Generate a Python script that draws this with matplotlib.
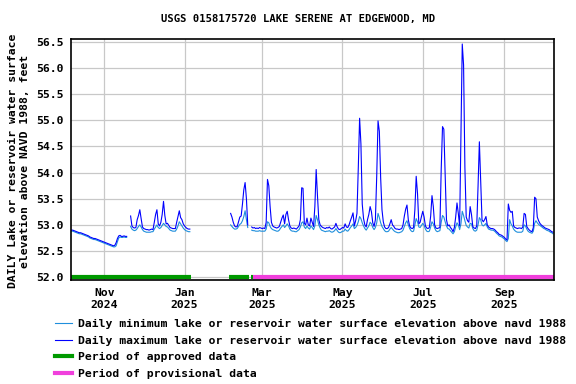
import pandas as pd
import matplotlib
matplotlib.use('Agg')
import matplotlib.pyplot as plt
import matplotlib.dates as mdates
from matplotlib.ticker import MultipleLocator, FormatStrFormatter

plt.rcParams['font.family'] = 'DejaVu Sans Mono'
plt.rcParams['font.weight'] = 'bold'
plt.rcParams['font.size'] = 8.2

title = 'USGS 0158175720 LAKE SERENE AT EDGEWOOD, MD'
ylabel = 'DAILY Lake or reservoir water surface\nelevation above NAVD 1988, feet'
min_label = 'Daily minimum lake or reservoir water surface elevation above navd 1988'
max_label = 'Daily maximum lake or reservoir water surface elevation above navd 1988'
approved_label = 'Period of approved data'
provisional_label = 'Period of provisional data'

# daily values, one list per continuous record segment
seg_starts = ['2024-10-07', '2024-11-21', '2025-02-05', '2025-02-21']

max_seg1 = [52.90, 52.90, 52.89, 52.88, 52.87, 52.86, 52.85, 52.85, 52.84, 52.83, 52.82,
            52.81, 52.80, 52.79, 52.77, 52.76, 52.75, 52.74, 52.74, 52.73, 52.72,
            52.71, 52.70, 52.69, 52.68, 52.67, 52.66, 52.65, 52.64, 52.63, 52.62,
            52.61, 52.60, 52.61, 52.66, 52.74, 52.79, 52.80, 52.78, 52.78, 52.79,
            52.78, 52.78]
min_seg1 = [52.88, 52.88, 52.87, 52.86, 52.85, 52.84, 52.83, 52.83, 52.82, 52.81, 52.80,
            52.79, 52.78, 52.77, 52.75, 52.74, 52.73, 52.72, 52.72, 52.71, 52.70,
            52.69, 52.68, 52.67, 52.66, 52.65, 52.64, 52.63, 52.62, 52.61, 52.60,
            52.59, 52.58, 52.58, 52.60, 52.68, 52.75, 52.77, 52.76, 52.76, 52.77,
            52.76, 52.76]

max_seg2 = [53.17, 52.98, 52.95, 52.94, 52.95, 53.10, 53.18, 53.29, 53.12, 52.96,
            52.93, 52.92, 52.91, 52.91, 52.90, 52.91, 52.92, 52.91, 53.05, 53.20,
            53.29, 53.02, 52.98, 53.05, 53.20, 53.45, 53.18, 53.02, 53.03, 52.99,
            52.95, 52.94, 52.93, 52.93, 52.93, 53.05, 53.16, 53.27, 53.14, 53.10,
            53.02, 52.98, 52.95, 52.93, 52.92, 52.92]
min_seg2 = [52.97, 52.92, 52.90, 52.89, 52.90, 52.93, 52.97, 53.00, 52.96, 52.91,
            52.88, 52.87, 52.86, 52.86, 52.86, 52.86, 52.87, 52.87, 52.92, 52.96,
            53.00, 52.95, 52.93, 52.95, 52.99, 53.03, 53.00, 52.97, 52.96, 52.93,
            52.90, 52.89, 52.88, 52.88, 52.88, 52.92, 52.98, 53.06, 53.02, 52.98,
            52.94, 52.91, 52.89, 52.88, 52.87, 52.87]

max_seg3 = [53.22, 53.15, 53.05, 52.98, 52.96, 52.97, 53.06, 53.15, 53.17, 53.40,
            53.67, 53.81, 53.50, 53.00]
min_seg3 = [53.00, 52.97, 52.94, 52.92, 52.92, 52.93, 52.97, 53.01, 53.03, 53.08,
            53.16, 53.27, 53.10, 52.95]

max_seg4 = [52.96, 52.94, 52.95, 52.93, 52.94, 52.93, 52.95, 52.94, 52.93, 52.94, 52.93,
            53.05, 53.87, 53.75, 53.35, 53.05, 52.98,
            52.96, 52.95, 52.94, 52.95, 52.97,
            53.05, 53.13, 53.19, 53.02, 53.20, 53.26, 53.10, 52.98,
            52.94, 52.93, 52.94, 52.93, 52.92, 52.95, 52.98,
            53.10, 53.71, 53.70, 53.03, 53.00, 53.13, 53.00, 52.98, 53.13, 53.05, 52.97,
            53.35, 54.06, 53.55, 53.10, 53.00,
            52.97, 52.95, 52.94, 52.93, 52.95, 52.94, 52.96, 52.93, 52.92, 52.94, 52.96,
            53.03, 52.96, 52.92, 52.91, 52.93, 52.95, 52.94, 53.02, 52.96, 52.95, 53.00, 53.08,
            53.15, 53.23, 52.98, 53.08, 53.22, 54.09, 55.04, 54.55, 53.40, 53.12, 53.00,
            52.96, 53.10, 53.20, 53.35, 53.25, 53.04, 52.97, 53.10, 53.93, 54.99, 54.79, 53.90, 53.29, 53.06,
            52.96, 52.93, 52.93, 52.95, 53.02, 53.10, 53.00, 52.97, 52.93, 52.92, 52.92, 52.91, 52.92, 52.93,
            53.00, 53.17, 53.30, 53.38, 53.10, 52.98, 52.94, 52.93, 52.95,
            53.29, 53.93, 53.60, 53.02, 53.05, 53.16, 53.26, 53.15, 52.98,
            52.94, 52.93, 52.95, 53.17, 53.56, 53.35, 53.00,
            52.94, 52.93, 52.94, 52.95, 54.06, 54.88, 54.83, 53.99, 53.10, 52.98,
            53.00, 52.95, 52.92, 52.87, 52.95, 53.15, 53.42, 53.22, 52.98,
            54.70, 56.46, 56.06, 54.10, 53.15, 53.08, 53.05, 53.35, 53.20, 52.97,
            52.94, 52.93, 52.98, 53.74, 54.59, 53.85, 53.10, 53.06, 53.10, 53.16, 53.00,
            52.96, 52.94, 52.93, 52.93, 52.92, 52.90, 52.87, 52.85, 52.82, 52.81, 52.80, 52.78, 52.76, 52.73, 52.71,
            53.40, 53.28, 53.24, 53.26, 52.98, 52.95, 52.94, 52.93, 52.94, 52.94, 52.93, 52.96,
            53.22, 53.20, 52.97, 52.93, 52.90, 52.88, 52.87, 52.95,
            53.53, 53.50, 53.15, 53.08, 53.03, 53.00, 52.98, 52.96, 52.94, 52.93, 52.92, 52.91, 52.89, 52.87, 52.86]
min_seg4 = [52.90, 52.89, 52.89, 52.88, 52.88, 52.88, 52.89, 52.88, 52.88, 52.88, 52.88,
            52.92, 53.06, 53.04, 52.97, 52.93, 52.91,
            52.90, 52.89, 52.88, 52.88, 52.90,
            52.94, 52.97, 53.00, 52.95, 52.98, 53.02, 52.98, 52.92,
            52.89, 52.88, 52.88, 52.87, 52.87, 52.89, 52.91,
            52.96, 53.04, 53.06, 52.96, 52.93, 52.98, 52.94, 52.92, 52.98, 52.95, 52.91,
            52.98, 53.18, 53.10, 53.00, 52.94,
            52.90, 52.89, 52.88, 52.87, 52.88, 52.88, 52.89, 52.87, 52.86, 52.87, 52.89,
            52.93, 52.89, 52.86, 52.85, 52.86, 52.88, 52.88, 52.92, 52.89, 52.88, 52.91, 52.95,
            52.98, 53.02, 52.93, 52.95, 52.99, 53.06, 53.16, 53.12, 53.04, 52.98, 52.93,
            52.90, 52.94, 52.98, 53.05, 53.02, 52.95, 52.91, 52.95, 53.04, 53.22, 53.14, 53.04, 52.97, 52.93,
            52.89, 52.87, 52.87, 52.88, 52.92, 52.95, 52.92, 52.89, 52.87, 52.86, 52.85, 52.85, 52.86, 52.87,
            52.90, 52.97, 53.04, 53.08, 53.00, 52.93, 52.89, 52.87, 52.88,
            53.00, 53.12, 53.06, 52.96, 52.95, 52.99, 53.03, 52.99, 52.92,
            52.88, 52.87, 52.88, 52.96, 53.06, 53.02, 52.94,
            52.89, 52.87, 52.88, 52.89, 53.05, 53.18, 53.15, 53.06, 52.98, 52.93,
            52.92, 52.89, 52.86, 52.83, 52.87, 52.96, 53.04, 53.00, 52.91,
            53.02, 53.26, 53.18, 53.08, 52.99, 52.96, 52.94, 53.03, 53.02, 52.93,
            52.89, 52.88, 52.90, 53.00, 53.14, 53.10, 53.00, 52.98, 53.00, 53.03, 52.96,
            52.92, 52.91, 52.90, 52.90, 52.89, 52.87, 52.84, 52.82, 52.79, 52.78, 52.77, 52.75, 52.73, 52.70, 52.68,
            52.74, 53.10, 53.02, 52.98, 52.92, 52.89, 52.87, 52.86, 52.86, 52.86, 52.86, 52.88,
            53.00, 52.98, 52.92, 52.88, 52.86, 52.85, 52.84, 52.88,
            53.03, 53.08, 53.04, 53.01, 52.99, 52.97, 52.95, 52.93, 52.92, 52.90, 52.89, 52.88, 52.86, 52.85, 52.83]

max_segs = [max_seg1, max_seg2, max_seg3, max_seg4]
min_segs = [min_seg1, min_seg2, min_seg3, min_seg4]

approved_periods = [('2024-10-06 12:00', '2025-01-05 22:00'),
                    ('2025-02-03 20:00', '2025-02-19 00:00'),
                    ('2025-02-20 12:00', '2025-02-21 20:00')]
provisional_periods = [('2025-02-21 20:00', '2025-10-08 20:00')]

x_start = pd.Timestamp('2024-10-06 17:00')
x_end = pd.Timestamp('2025-10-08 17:00')

min_color = '#1f8fdc'
max_color = '#0000ff'
approved_color = '#009900'
provisional_color = '#f040dc'

fig = plt.figure(figsize=(5.76, 3.84), dpi=100)
ax = fig.add_axes([71 / 576, 1 - 280 / 384, 483 / 576, 241 / 384])

for start, mx, mn in zip(seg_starts, max_segs, min_segs):
    dates = pd.date_range(start, periods=len(mx), freq='D')
    ax.plot(dates, mn, color=min_color, lw=0.8)
    ax.plot(dates, mx, color=max_color, lw=0.8)

for s, e in approved_periods:
    ax.plot([pd.Timestamp(s), pd.Timestamp(e)], [52.0, 52.0], color=approved_color,
            lw=3, solid_capstyle='butt')
for s, e in provisional_periods:
    ax.plot([pd.Timestamp(s), pd.Timestamp(e)], [52.0, 52.0], color=provisional_color,
            lw=3, solid_capstyle='butt')

ax.set_xlim(x_start, x_end)
ax.set_ylim(51.946, 56.556)
ax.yaxis.set_major_locator(MultipleLocator(0.5))
ax.yaxis.set_major_formatter(FormatStrFormatter('%.1f'))
ax.xaxis.set_major_locator(mdates.MonthLocator(bymonth=[1, 3, 5, 7, 9, 11]))
ax.xaxis.set_major_formatter(mdates.DateFormatter('%b\n%Y'))
ax.tick_params(axis='both', length=0)
ax.tick_params(axis='x', pad=5.5)
ax.tick_params(axis='y', pad=5.5)
for lbl in ax.get_xticklabels():
    lbl.set_linespacing(1.25)
ax.grid(True, color='#c8c8c8', lw=0.9)
ax.set_axisbelow(True)
for sp in ax.spines.values():
    sp.set_linewidth(1.2)

fig.text(0.517, 1 - 19 / 384, title, ha='center', va='center', fontsize=7.6)
fig.text(19 / 576, 1 - 161 / 384, ylabel, rotation=90, ha='center', va='center',
         multialignment='center', linespacing=1.35)

handles = [plt.Line2D([], [], color=min_color, lw=0.8),
           plt.Line2D([], [], color=max_color, lw=0.8),
           plt.Line2D([], [], color=approved_color, lw=3),
           plt.Line2D([], [], color=provisional_color, lw=3)]
fig.legend(handles, [min_label, max_label, approved_label, provisional_label],
           loc='upper left', bbox_to_anchor=(55 / 576, 1 - 319 / 384),
           frameon=False, handlelength=1.5, handletextpad=0.5,
           labelspacing=0.58, borderpad=0, borderaxespad=0)

fig.savefig('out.png', dpi=100)
